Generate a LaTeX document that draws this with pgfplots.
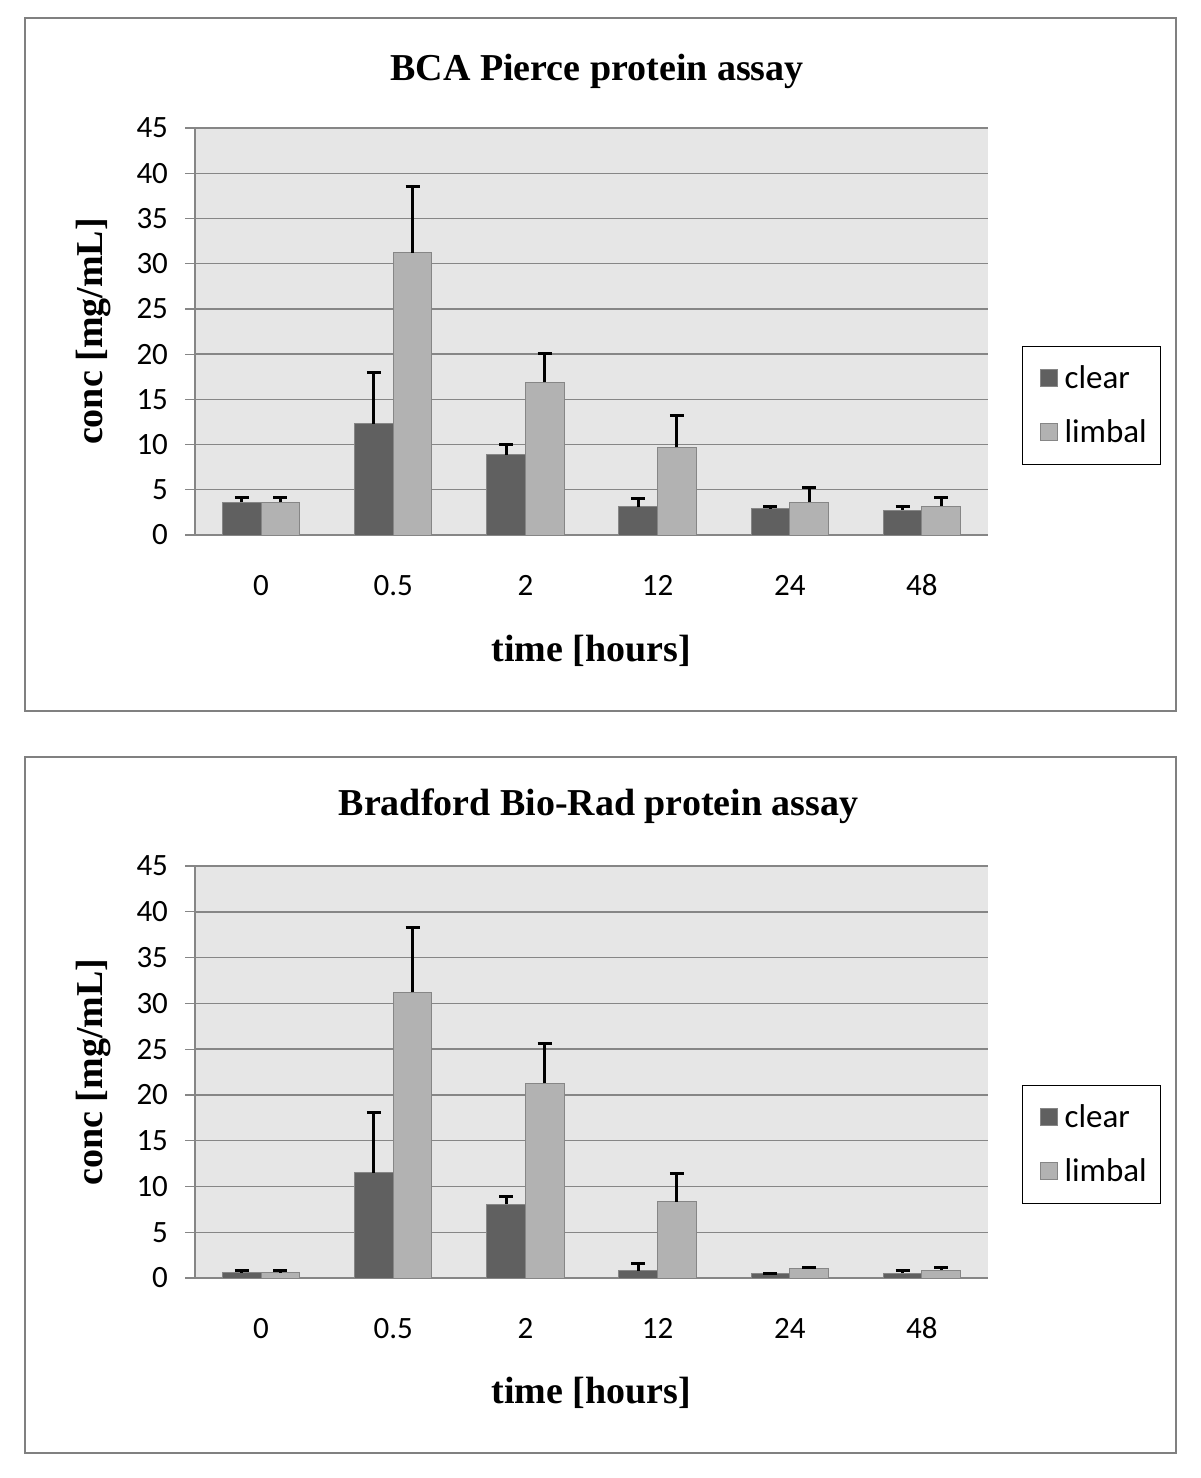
\documentclass[border=0pt]{standalone}
\usepackage{fontspec}
\setmainfont{Liberation Serif}
\newfontfamily\calibri{Carlito}
\usepackage{pgfplots}
\pgfplotsset{compat=1.18}
\usepackage{pgfplotstable}
\definecolor{clearc}{RGB}{96,96,96}
\definecolor{limbc}{RGB}{178,178,178}
\definecolor{bgc}{RGB}{230,230,230}
\definecolor{gridc}{RGB}{134,134,134}
\definecolor{framec}{RGB}{128,128,128}

\pgfplotstableread{
x y e
0 3.6 0.6
1 12.3 5.7
2 8.9 1.1
3 3.1 0.9
4 2.9 0.3
5 2.75 0.4
}\topclear
\pgfplotstableread{
x y e
0 3.6 0.6
1 31.2 7.3
2 16.9 3.2
3 9.7 3.5
4 3.6 1.6
5 3.2 1.0
}\toplimbal
\pgfplotstableread{
x y e
0 0.55 0.25
1 11.5 6.6
2 8.05 0.85
3 0.8 0.8
4 0.5 0.03
5 0.5 0.3
}\botclear
\pgfplotstableread{
x y e
0 0.55 0.25
1 31.2 7.1
2 21.3 4.3
3 8.35 3.05
4 1.0 0.2
5 0.85 0.25
}\botlimbal

\pgfplotsset{
  assaystyle/.style={
    scale only axis,
    width=396.5pt,
    ymin=0, ymax=45,
    xmin=-0.5, xmax=5.5,
    ytick={0,5,...,45},
    xtick={0,...,5},
    xticklabels={0,0.5,2,12,24,48},
    major x tick style={draw=none},
    extra x ticks={-0.5,0.5,...,5.5},
    extra x tick labels={},
    extra x tick style={grid=none, major tick length=6pt, tick style={draw=gridc, line width=0.6pt}},
    tick align=outside,
    major tick length=5pt,
    ytick style={draw=gridc, line width=0.6pt},
    axis lines*=left,
    axis line style={draw=gridc, line width=0.7pt, -},
    axis background/.style={fill=bgc},
    ymajorgrids,
    grid style={draw=gridc, line width=0.7pt},
    /pgf/number format/assume math mode=true,
    ticklabel style={font=\calibri\fontsize{15.5}{15.5}\selectfont},
    yticklabel style={xshift=-5pt},
    xticklabel style={anchor=center, text height=1.4ex, text depth=0pt, yshift=-22pt},
    ybar,
    bar width=19.3pt,
    clip=false,
    xlabel={time [hours]},
    ylabel={conc [mg/mL]},
    label style={font=\bfseries\fontsize{19}{19}\selectfont},
    legend style={draw=black, line width=0.6pt, fill=white,
      font=\calibri\fontsize{16.5}{16.5}\selectfont,
      legend cell align=left, row sep=10pt, inner xsep=5pt, inner ysep=7.5pt},
    legend image code/.code={\path (0pt,0pt); \draw[#1, draw=gridc, line width=0.4pt] (3.5pt,-4pt) rectangle (12pt,4.5pt); \path (13.5pt,0pt);},
    error bars/error bar style={line width=1.5pt, black},
    error bars/error mark options={rotate=90, mark size=3.5pt, line width=1.5pt, black},
  }
}

\begin{document}
\begin{tikzpicture}
\useasboundingbox (0pt,0pt) rectangle (600pt,-739pt);
\draw[framec, line width=1pt] (12.5pt,-9pt) rectangle (588pt,-355.5pt);
\draw[framec, line width=1pt] (12.5pt,-378.5pt) rectangle (588pt,-726.5pt);

\begin{axis}[assaystyle,
  at={(97.5pt,-267.5pt)}, anchor=south west,
  height=203.5pt,
  title={BCA Pierce protein assay},
  title style={at={(axis description cs:0.507,1.142)}, anchor=center, yshift=-6.5pt, font=\bfseries\fontsize{19}{19}\selectfont},
  xlabel style={at={(axis description cs:0.5,-0.285)}, anchor=center},
  ylabel style={at={(axis description cs:-0.1286,0.5)}, anchor=center},
  legend style={at={(axis description cs:1.0429,0.4644)}, anchor=north west},
]
\addplot[fill=clearc, draw=gridc, line width=0.5pt, bar shift=-9.65pt,
  error bars/.cd, y dir=plus, y explicit]
  table[x=x, y=y, y error=e] {\topclear};
\addplot[fill=limbc, draw=gridc, line width=0.5pt, bar shift=9.65pt,
  error bars/.cd, y dir=plus, y explicit]
  table[x=x, y=y, y error=e] {\toplimbal};
\legend{clear, limbal}
\end{axis}

\begin{axis}[assaystyle,
  at={(97.5pt,-639pt)}, anchor=south west,
  height=206pt,
  title={Bradford Bio-Rad protein assay},
  title style={at={(axis description cs:0.509,1.148)}, anchor=center, yshift=-6.5pt, font=\bfseries\fontsize{19}{19}\selectfont},
  xlabel style={at={(axis description cs:0.5,-0.279)}, anchor=center},
  ylabel style={at={(axis description cs:-0.1286,0.5)}, anchor=center},
  legend style={at={(axis description cs:1.0429,0.4684)}, anchor=north west},
]
\addplot[fill=clearc, draw=gridc, line width=0.5pt, bar shift=-9.65pt,
  error bars/.cd, y dir=plus, y explicit]
  table[x=x, y=y, y error=e] {\botclear};
\addplot[fill=limbc, draw=gridc, line width=0.5pt, bar shift=9.65pt,
  error bars/.cd, y dir=plus, y explicit]
  table[x=x, y=y, y error=e] {\botlimbal};
\legend{clear, limbal}
\end{axis}
\end{tikzpicture}
\end{document}
